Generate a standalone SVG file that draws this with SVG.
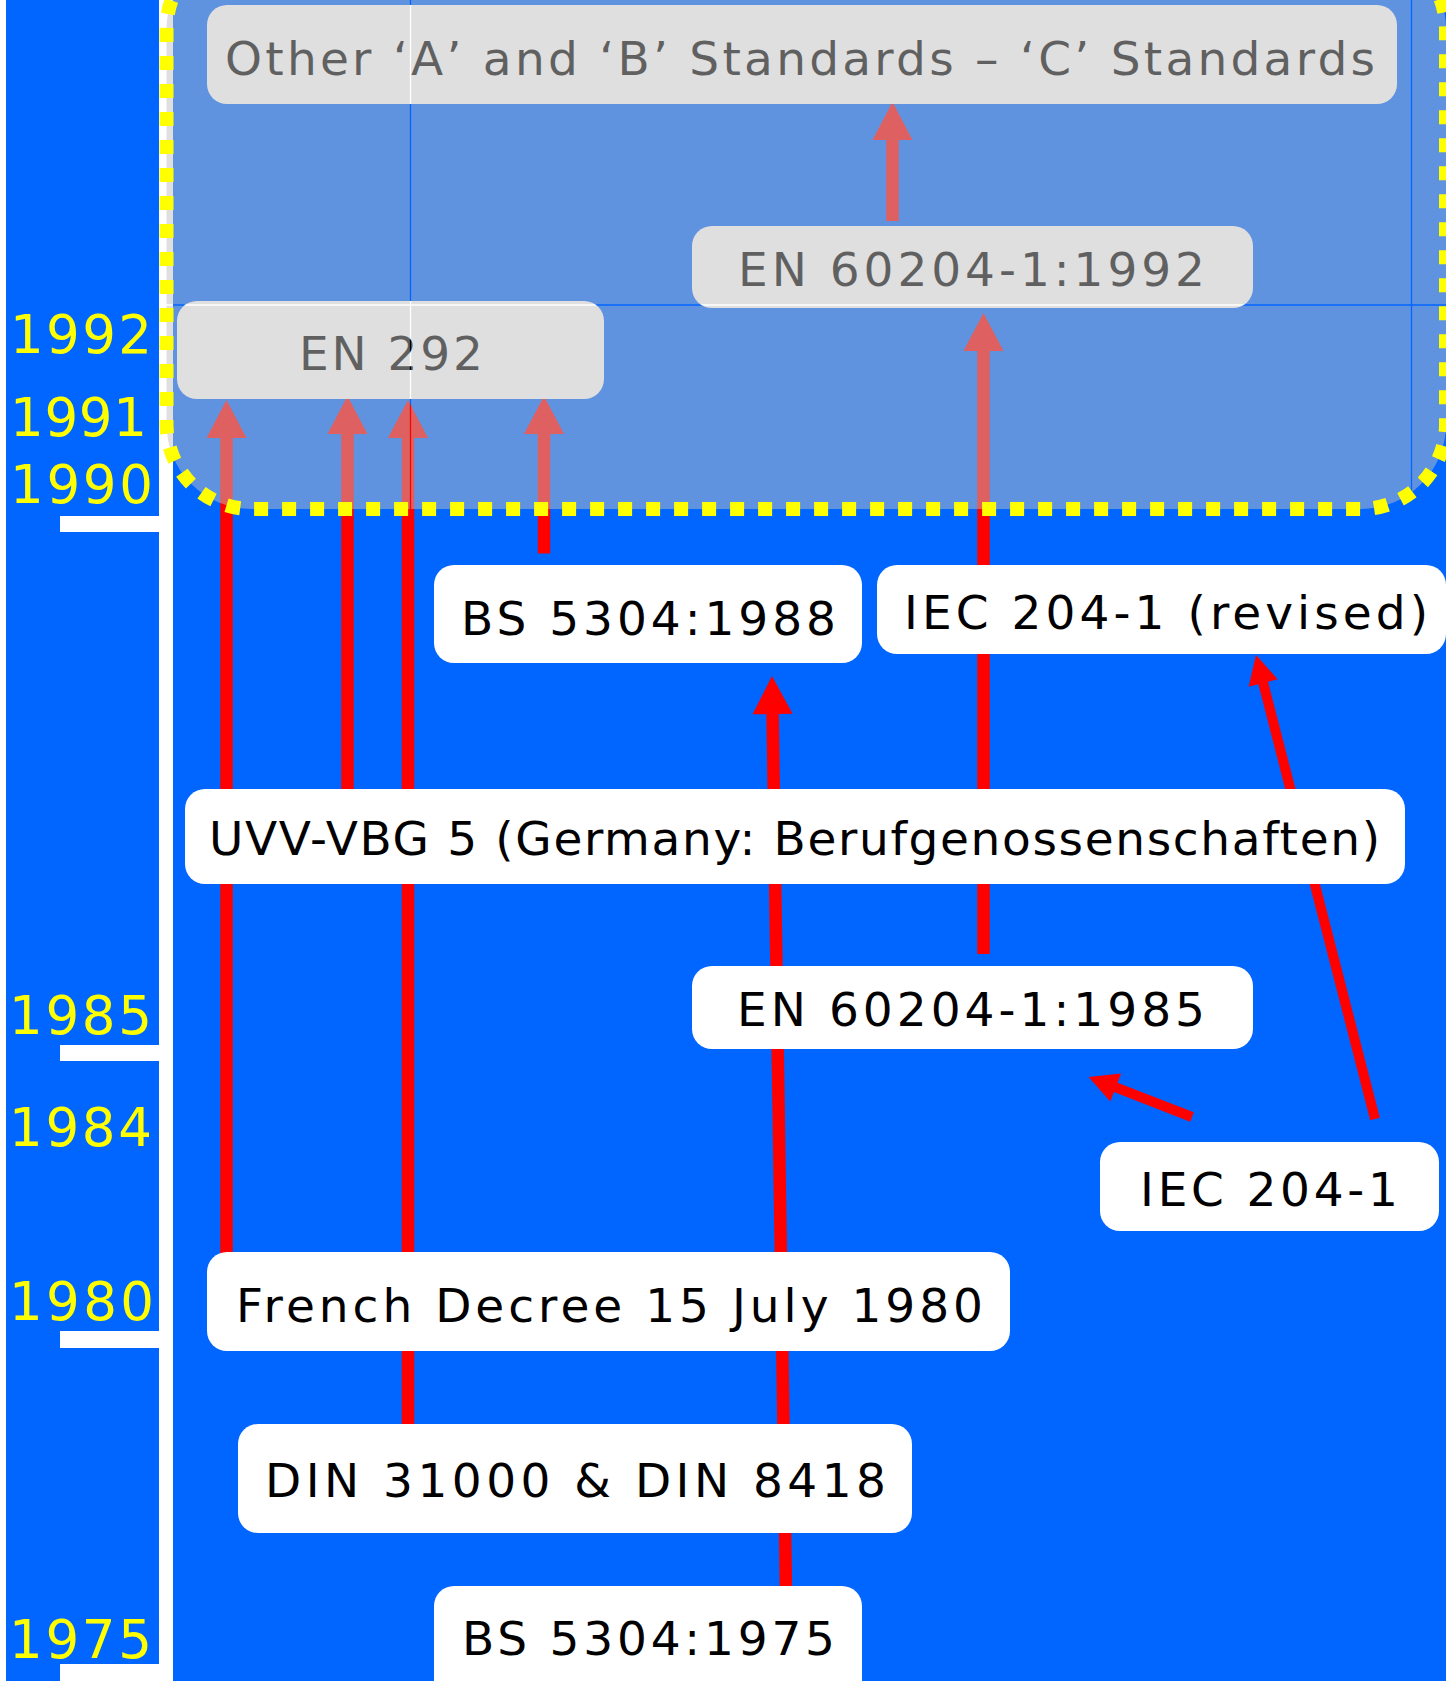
<svg xmlns="http://www.w3.org/2000/svg" width="1449" height="1681" viewBox="0 0 1449 1681">
  <style>
    .bg { fill: #0066ff; }
    .margin { fill: #ffffff; }
    .axis { fill: #ffffff; }
    .year { font-family: "DejaVu Sans", "Liberation Sans", sans-serif; font-size: 53px; fill: #ffff00; }
    .box { fill: #ffffff; }
    .label { font-family: "DejaVu Sans", "Liberation Sans", sans-serif; font-size: 47px; fill: #000000; }
    .conn { stroke: #ff0000; fill: none; stroke-linecap: butt; }
    .thick { stroke-width: 12.5; }
    .thin { stroke-width: 10; }
    .veil { fill: #c0c0c0; fill-opacity: 0.5; }
    .frame { fill: none; stroke: #ffff00; stroke-width: 14; stroke-dasharray: 14 14; stroke-dashoffset: 20; }
  </style>
  <defs>
    <marker id="headBig" markerUnits="userSpaceOnUse" markerWidth="42" markerHeight="42" refX="0" refY="0" orient="auto" overflow="visible">
      <path d="M-2,-20 L36,0 L-2,20 Z" fill="#ff0000"/>
    </marker>
    <marker id="headSmall" markerUnits="userSpaceOnUse" markerWidth="32" markerHeight="32" refX="0" refY="0" orient="auto" overflow="visible">
      <path d="M-2,-15 L27,0 L-2,15 Z" fill="#ff0000"/>
    </marker>
    <mask id="seams" maskUnits="userSpaceOnUse" x="0" y="-100" width="1449" height="800">
      <rect x="0" y="-100" width="1449" height="800" fill="#ffffff"/>
      <g stroke="#000000" stroke-width="1.3">
        <line x1="410.5" y1="-60" x2="410.5" y2="520"/>
        <line x1="150" y1="305" x2="1449" y2="305"/>
        <line x1="1411.5" y1="-60" x2="1411.5" y2="520"/>
      </g>
    </mask>
  </defs>

  <!-- background -->
  <rect class="bg" x="0" y="0" width="1449" height="1681"/>

  <!-- timeline axis and ticks -->
  <g id="timeline">
    <rect class="axis" x="159" y="0" width="14" height="1681"/>
    <rect class="axis" x="60" y="516" width="100" height="16"/>
    <rect class="axis" x="60" y="1045" width="100" height="16"/>
    <rect class="axis" x="60" y="1331" width="100" height="17"/>
    <rect class="axis" x="60" y="1664" width="100" height="17"/>
    <text class="year" x="10" y="353" textLength="142" lengthAdjust="spacing">1992</text>
    <text class="year" x="10" y="436" textLength="137" lengthAdjust="spacing">1991</text>
    <text class="year" x="10" y="503" textLength="143" lengthAdjust="spacing">1990</text>
    <text class="year" x="9" y="1034" textLength="143" lengthAdjust="spacing">1985</text>
    <text class="year" x="9" y="1146" textLength="143" lengthAdjust="spacing">1984</text>
    <text class="year" x="9" y="1320" textLength="145" lengthAdjust="spacing">1980</text>
    <text class="year" x="9" y="1658" textLength="143" lengthAdjust="spacing">1975</text>
  </g>

  <!-- connectors -->
  <g id="connectors">
    <line class="conn thick" x1="226.5" y1="1258" x2="226.5" y2="436" marker-end="url(#headBig)"/>
    <line class="conn thick" x1="347.5" y1="795" x2="347.5" y2="432" marker-end="url(#headBig)"/>
    <line class="conn thick" x1="408" y1="1430" x2="408" y2="436" marker-end="url(#headBig)"/>
    <line class="conn thick" x1="544" y1="553.5" x2="544" y2="432" marker-end="url(#headBig)"/>
    <line class="conn thick" x1="983.5" y1="954" x2="983.5" y2="349" marker-end="url(#headBig)"/>
    <line class="conn thick" x1="892.5" y1="221" x2="892.5" y2="138" marker-end="url(#headBig)"/>
    <line class="conn thick" x1="786" y1="1592" x2="772.55" y2="712" marker-end="url(#headBig)"/>
    <line class="conn thin" x1="1192" y1="1117" x2="1113.8" y2="1086.7" marker-end="url(#headSmall)"/>
    <line class="conn thin" x1="1375" y1="1119" x2="1262.7" y2="681.1" marker-end="url(#headSmall)"/>
  </g>

  <!-- nodes -->
  <g id="node-other-standards">
    <rect class="box" x="207" y="5" width="1190" height="99" rx="20"/>
    <text class="label" x="225" y="75" textLength="1150" lengthAdjust="spacing">Other ‘A’ and ‘B’ Standards – ‘C’ Standards</text>
  </g>
  <g id="node-en60204-1992">
    <rect class="box" x="692" y="226" width="561" height="82" rx="20"/>
    <text class="label" x="738" y="286" textLength="467" lengthAdjust="spacing">EN 60204-1:1992</text>
  </g>
  <g id="node-en292">
    <rect class="box" x="177" y="301" width="427" height="98" rx="20"/>
    <text class="label" x="299" y="370" textLength="184" lengthAdjust="spacing">EN 292</text>
  </g>
  <g id="node-bs5304-1988">
    <rect class="box" x="434" y="565" width="428" height="98" rx="20"/>
    <text class="label" x="461" y="635" textLength="375" lengthAdjust="spacing">BS 5304:1988</text>
  </g>
  <g id="node-iec204-revised">
    <rect class="box" x="877" y="565" width="569" height="89" rx="20"/>
    <text class="label" x="904" y="629" textLength="524" lengthAdjust="spacing">IEC 204-1 (revised)</text>
  </g>
  <g id="node-uvv-vbg5">
    <rect class="box" x="185" y="789" width="1220" height="95" rx="20"/>
    <text class="label" x="209" y="855" textLength="1171" lengthAdjust="spacing">UVV-VBG 5 (Germany: Berufgenossenschaften)</text>
  </g>
  <g id="node-en60204-1985">
    <rect class="box" x="692" y="966" width="561" height="83" rx="20"/>
    <text class="label" x="737" y="1026" textLength="468" lengthAdjust="spacing">EN 60204-1:1985</text>
  </g>
  <g id="node-iec204">
    <rect class="box" x="1100" y="1142" width="339" height="89" rx="20"/>
    <text class="label" x="1140" y="1206" textLength="258" lengthAdjust="spacing">IEC 204-1</text>
  </g>
  <g id="node-french-decree">
    <rect class="box" x="207" y="1252" width="803" height="99" rx="20"/>
    <text class="label" x="236" y="1322" textLength="747" lengthAdjust="spacing">French Decree 15 July 1980</text>
  </g>
  <g id="node-din">
    <rect class="box" x="238" y="1424" width="674" height="109" rx="20"/>
    <text class="label" x="265" y="1497" textLength="621" lengthAdjust="spacing">DIN 31000 &amp; DIN 8418</text>
  </g>
  <g id="node-bs5304-1975">
    <rect class="box" x="434" y="1586" width="428" height="120" rx="20"/>
    <text class="label" x="462" y="1655" textLength="373" lengthAdjust="spacing">BS 5304:1975</text>
  </g>

  <!-- translucent group container -->
  <g id="group-1990s">
    <rect class="veil" x="166.5" y="-56" width="1279.5" height="565" rx="85" mask="url(#seams)"/>
    <rect class="frame" x="166.5" y="-56" width="1279.5" height="565" rx="85"/>
  </g>

  <!-- page margins -->
  <rect class="margin" x="0" y="0" width="6" height="1681"/>
  <rect class="margin" x="1446" y="0" width="3" height="1681"/>
</svg>
